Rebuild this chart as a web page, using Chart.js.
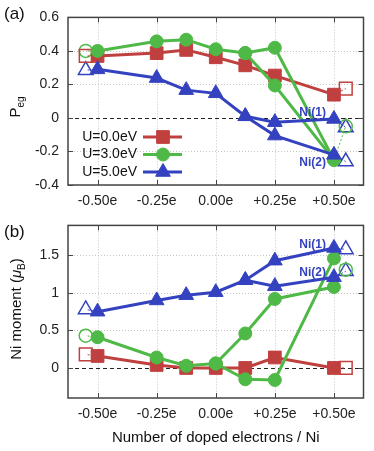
<!DOCTYPE html>
<html>
<head>
<meta charset="utf-8">
<script src="https://cdn.jsdelivr.net/npm/chart.js@4.4.1/dist/chart.umd.min.js"></script>
<style>
html, body { margin: 0; padding: 0; background: #fff; }
#wrapA { position: absolute; left: 0; top: 0; width: 374px; height: 208px; }
#wrapB { position: absolute; left: 0; top: 208px; width: 374px; height: 243px; }
</style>
</head>
<body>
<div id="wrapA"><canvas id="panelA"></canvas></div>
<div id="wrapB"><canvas id="panelB"></canvas></div>
<script>
// doped electrons per Ni
const doping = [-0.5, -0.25, -0.125, 0, 0.125, 0.25, 0.5];
const xTicks = [-0.5, -0.25, 0, 0.25, 0.5];
const xTickLabels = ['-0.50e', '-0.25e', '0.00e', '+0.25e', '+0.50e'];
const seriesLabels = ['U=0.0eV', 'U=3.0eV', 'U=5.0eV'];

// (a) P_eg
const pegU0    = [0.37, 0.387, 0.406, 0.362, 0.314, 0.253, 0.139];
const pegU3Ni1 = [0.40, 0.457, 0.467, 0.41, 0.387, 0.419, -0.25];
const pegU3Ni2 = [null, null, null, null, 0.387, 0.194, -0.25];
const pegU5Ni1 = [0.29, 0.238, 0.166, 0.147, 0.01, -0.025, -0.006];
const pegU5Ni2 = [null, null, null, null, 0.01, -0.105, -0.22];
const yTicksA = [-0.4, -0.2, 0, 0.2, 0.4, 0.6];

// (b) Ni moment
const momU0    = [0.16, 0.04, 0, 0, 0, 0.14, 0];
const momU3Ni1 = [0.41, 0.14, 0.03, 0.06, -0.15, -0.16, 1.46];
const momU3Ni2 = [null, null, null, 0.06, 0.46, 0.92, 1.08];
const momU5Ni1 = [0.75, 0.90, 0.97, 1.01, 1.17, 1.43, 1.60];
const momU5Ni2 = [null, null, null, null, 1.17, 1.09, 1.21];
const yTicksB = [0, 0.5, 1, 1.5];

// open symbols (left / right of the end points)
const openDoping = [-0.55, 0.55];
const pegOpenU0    = [0.37, 0.175];
const pegOpenU3    = [0.40, -0.05];
const pegOpenU5Ni1 = [0.285, -0.057];
const pegOpenU5Ni2 = [null, -0.26];
const momOpenU0    = [0.18, 0];
const momOpenU3    = [0.43, 1.31];
const momOpenU5Ni1 = [0.78, 1.58];
const momOpenU5Ni2 = [null, 1.29];

const RED = '#c0403f', GREEN = '#4fb947', BLUE = '#3542c0';
const FONT = "'Liberation Sans', Arial, Helvetica, sans-serif";
const styles = [
  { color: RED, shape: 'rect', r: 9, order: 3 },
  { color: GREEN, shape: 'circle', r: 6.5, order: 2 },
  { color: BLUE, shape: 'triangle', r: 8.5, order: 1 }
];

function line(values, s) {
  return {
    data: doping.map((x, i) => ({ x, y: values[i] })).filter(p => p.y !== null),
    showLine: true, borderColor: s.color, backgroundColor: s.color, borderWidth: 3,
    pointStyle: s.shape, pointRadius: s.r, pointHoverRadius: s.r,
    pointBackgroundColor: s.color, pointBorderColor: s.color, pointBorderWidth: 1,
    order: s.order
  };
}

// dashed link from a filled end point to its open symbol
function openLink(filled, openVals, side, s) {
  const idx = side === 0 ? 0 : doping.length - 1;
  if (openVals[side] === null) return null;
  return {
    data: [{ x: doping[idx], y: filled[idx] }, { x: openDoping[side], y: openVals[side] }],
    showLine: true, borderColor: s.color, borderWidth: 1, borderDash: [2, 2],
    pointStyle: s.shape, pointRadius: [0, s.r], pointHoverRadius: [0, s.r],
    pointBackgroundColor: 'rgba(255,255,255,0)', pointBorderColor: s.color, pointBorderWidth: 1.5,
    order: 6
  };
}

const frame = {
  id: 'frame',
  beforeDatasetsDraw(chart, args, opts) {
    const { ctx, chartArea: a, scales: { x, y } } = chart;
    ctx.save();
    ctx.strokeStyle = '#c4c4c4';
    ctx.lineWidth = 1;
    ctx.setLineDash([1, 2]);
    xTicks.forEach(v => {
      const px = Math.round(x.getPixelForValue(v)) + 0.5;
      ctx.beginPath(); ctx.moveTo(px, a.top); ctx.lineTo(px, a.bottom); ctx.stroke();
    });
    opts.yTicks.forEach(v => {
      if (v === 0) return;
      const py = Math.round(y.getPixelForValue(v)) + 0.5;
      ctx.beginPath(); ctx.moveTo(a.left, py); ctx.lineTo(a.right, py); ctx.stroke();
    });
    // zero line
    ctx.strokeStyle = '#222';
    ctx.setLineDash([4, 3]);
    const y0 = Math.round(y.getPixelForValue(0)) + 0.5;
    ctx.beginPath(); ctx.moveTo(a.left, y0); ctx.lineTo(a.right, y0); ctx.stroke();
    // inner ticks
    ctx.setLineDash([]);
    ctx.strokeStyle = '#444';
    xTicks.forEach(v => {
      const px = Math.round(x.getPixelForValue(v)) + 0.5;
      ctx.beginPath(); ctx.moveTo(px, a.bottom); ctx.lineTo(px, a.bottom - 5);
      ctx.moveTo(px, a.top); ctx.lineTo(px, a.top + 5); ctx.stroke();
    });
    opts.yTicks.forEach(v => {
      const py = Math.round(y.getPixelForValue(v)) + 0.5;
      ctx.beginPath(); ctx.moveTo(a.left, py); ctx.lineTo(a.left + 5, py);
      ctx.moveTo(a.right, py); ctx.lineTo(a.right - 5, py); ctx.stroke();
    });
    ctx.lineWidth = 1.5;
    ctx.strokeStyle = '#444';
    ctx.strokeRect(a.left, a.top, a.right - a.left, a.bottom - a.top);
    ctx.restore();
  },
  afterDraw(chart, args, opts) {
    const { ctx, scales: { x, y } } = chart;
    ctx.save();
    // panel letter
    ctx.fillStyle = '#111';
    ctx.font = '17px ' + FONT;
    ctx.textBaseline = 'middle';
    ctx.textAlign = 'left';
    ctx.fillText(opts.letter, 4, opts.letterY);
    // Ni(1) / Ni(2) labels
    ctx.fillStyle = BLUE;
    ctx.font = 'bold 12px ' + FONT;
    ctx.textAlign = 'right';
    const xr = x.getPixelForValue(0.5) - 8;
    ctx.fillText('Ni(1)', xr, y.getPixelForValue(opts.ni1));
    ctx.fillText('Ni(2)', xr, y.getPixelForValue(opts.ni2));
    // rotated y title built from parts
    ctx.fillStyle = '#111';
    ctx.translate(opts.titleX, opts.titleY);
    ctx.rotate(-Math.PI / 2);
    ctx.textAlign = 'left';
    const parts = opts.title;
    let total = 0;
    parts.forEach(p => { ctx.font = p.font + FONT; p.w = ctx.measureText(p.t).width; total += p.w; });
    let cx = -total / 2;
    parts.forEach(p => {
      ctx.font = p.font + FONT;
      ctx.fillText(p.t, cx, p.dy || 0);
      cx += p.w;
    });
    ctx.restore();
  }
};

const legendA = {
  id: 'legendA',
  afterDraw(chart) {
    const ctx = chart.ctx;
    ctx.save();
    ctx.font = '14px ' + FONT;
    ctx.textBaseline = 'middle';
    ctx.textAlign = 'right';
    seriesLabels.forEach((lab, i) => {
      const s = styles[i];
      const yy = 137 + i * 17.5;
      ctx.fillStyle = '#111';
      ctx.fillText(lab, 137, yy);
      ctx.strokeStyle = s.color;
      ctx.fillStyle = s.color;
      ctx.lineWidth = 3;
      ctx.beginPath(); ctx.moveTo(143, yy); ctx.lineTo(182, yy); ctx.stroke();
      ctx.lineWidth = 1;
      Chart.helpers.drawPoint(ctx, { pointStyle: s.shape, radius: s.r, borderWidth: 1, rotation: 0 }, 163, yy);
    });
    ctx.restore();
  }
};

function xScale(height) {
  return {
    type: 'linear', min: -0.625, max: 0.625,
    grid: { display: false, drawTicks: false }, border: { display: false },
    afterBuildTicks: s => { s.ticks = xTicks.map(v => ({ value: v })); },
    ticks: {
      padding: 8, color: '#222', font: { family: FONT, size: 14 }, maxRotation: 0, autoSkip: false,
      callback: v => xTickLabels[xTicks.indexOf(v)] ?? ''
    },
    afterFit: s => { s.height = height; }
  };
}
function yScale(min, max, ticks) {
  return {
    min, max,
    grid: { display: false, drawTicks: false }, border: { display: false },
    afterBuildTicks: s => { s.ticks = ticks.map(v => ({ value: v })); },
    ticks: { padding: 9, color: '#222', font: { family: FONT, size: 14 }, callback: v => String(v) },
    afterFit: s => { s.width = 68; }
  };
}

function build(series, opens) {
  const ds = [];
  series.forEach(([vals, si]) => ds.push(line(vals, styles[si])));
  opens.forEach(([filled, openVals, si]) => {
    [0, 1].forEach(side => {
      const d = openLink(filled, openVals, side, styles[si]);
      if (d) ds.push(d);
    });
  });
  return ds;
}

new Chart(document.getElementById('panelA'), {
  type: 'scatter',
  data: {
    datasets: build(
      [[pegU0, 0], [pegU3Ni1, 1], [pegU3Ni2, 1], [pegU5Ni1, 2], [pegU5Ni2, 2]],
      [[pegU0, pegOpenU0, 0], [pegU3Ni1, pegOpenU3, 1], [pegU5Ni1, pegOpenU5Ni1, 2], [pegU5Ni2, pegOpenU5Ni2, 2]]
    )
  },
  options: {
    responsive: true, maintainAspectRatio: false, animation: false,
    layout: { padding: { top: 10, right: 4, left: 0, bottom: 0 } },
    plugins: {
      legend: { display: false }, tooltip: { enabled: false },
      frame: {
        yTicks: yTicksA, letter: '(a)', letterY: 14, ni1: 0.034, ni2: -0.269,
        titleX: 16, titleY: 107,
        title: [{ t: 'P', font: '15px ' }, { t: 'eg', font: '10px ', dy: 5 }]
      }
    },
    scales: { x: xScale(23), y: yScale(-0.4, 0.6, yTicksA) }
  },
  plugins: [frame, legendA]
});

new Chart(document.getElementById('panelB'), {
  type: 'scatter',
  data: {
    datasets: build(
      [[momU0, 0], [momU3Ni1, 1], [momU3Ni2, 1], [momU5Ni1, 2], [momU5Ni2, 2]],
      [[momU0, momOpenU0, 0], [momU3Ni1, momOpenU3, 1], [momU5Ni1, momOpenU5Ni1, 2], [momU5Ni2, momOpenU5Ni2, 2]]
    )
  },
  options: {
    responsive: true, maintainAspectRatio: false, animation: false,
    layout: { padding: { top: 15, right: 4, left: 0, bottom: 0 } },
    plugins: {
      legend: { display: false }, tooltip: { enabled: false },
      frame: {
        yTicks: yTicksB, letter: '(b)', letterY: 24, ni1: 1.645, ni2: 1.276,
        titleX: 17, titleY: 101,
        title: [
          { t: 'Ni moment (', font: '15px ' },
          { t: 'μ', font: 'italic 15px ' },
          { t: 'B', font: '10px ', dy: 5 },
          { t: ')', font: '15px ' }
        ]
      }
    },
    scales: {
      x: Object.assign(xScale(53), {
        title: { display: true, text: 'Number of doped electrons / Ni', color: '#111',
                 font: { family: FONT, size: 15 }, padding: { top: 0, bottom: 4 } }
      }),
      y: yScale(-0.4, 1.9, yTicksB)
    }
  },
  plugins: [frame]
});
</script>
</body>
</html>
